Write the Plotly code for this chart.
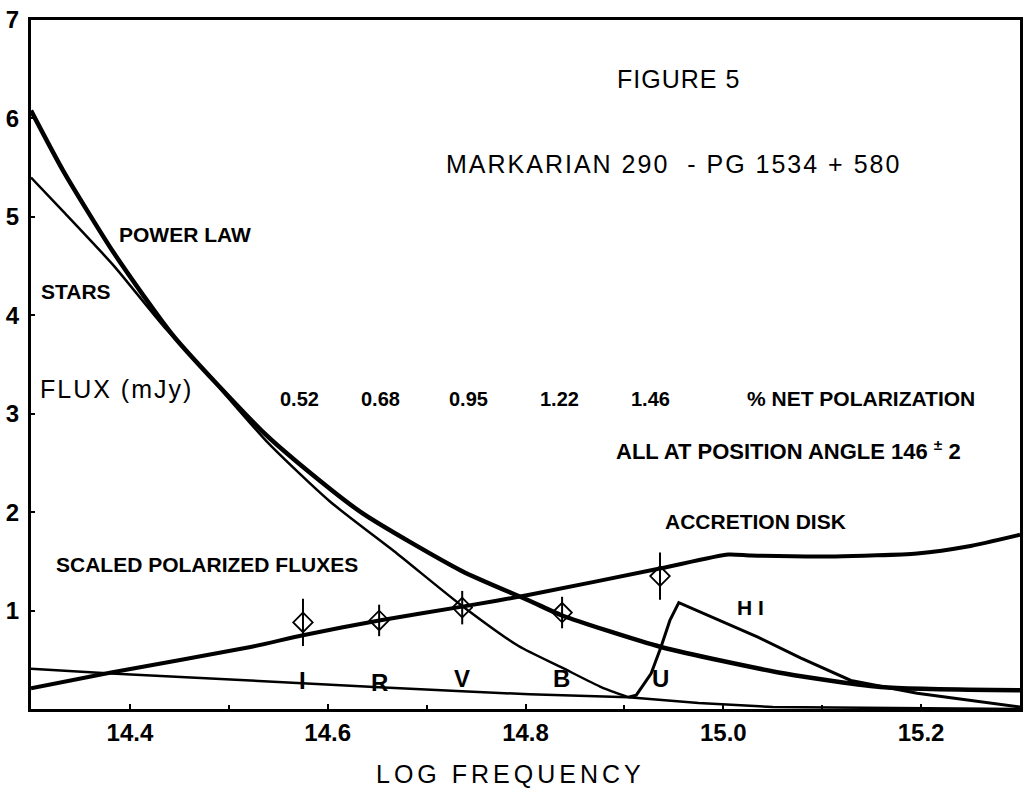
import plotly.graph_objects as go

# ---------------- data ----------------
power_x = [14.30, 14.333, 14.384, 14.444, 14.535, 14.569, 14.635, 14.736, 14.804, 14.837, 14.937, 15.062, 15.163, 15.30]
power_y = [6.08, 5.46, 4.63, 3.79, 2.81, 2.51, 1.99, 1.40, 1.10, 0.95, 0.63, 0.36, 0.22, 0.19]

stars_x = [14.30, 14.333, 14.384, 14.434, 14.47, 14.54, 14.602, 14.67, 14.733, 14.793, 14.837, 14.877, 14.904]
stars_y = [5.40, 5.05, 4.50, 3.89, 3.50, 2.70, 2.11, 1.58, 1.07, 0.64, 0.42, 0.22, 0.12]

disk_x = [14.30, 14.381, 14.522, 14.575, 14.652, 14.736, 14.804, 14.937, 15.005, 15.028, 15.113, 15.196, 15.247, 15.30]
disk_y = [0.21, 0.37, 0.63, 0.75, 0.90, 1.04, 1.16, 1.43, 1.57, 1.56, 1.55, 1.58, 1.65, 1.77]

base_x = [14.30, 14.381, 14.522, 14.575, 14.652, 14.736, 14.804, 14.904, 14.975, 15.05, 15.30]
base_y = [0.41, 0.36, 0.29, 0.26, 0.22, 0.18, 0.15, 0.12, 0.06, 0.02, 0.0]

hi_x = [14.904, 14.912, 14.927, 14.937, 14.946, 14.955, 15.035, 15.078, 15.129, 15.196, 15.30]
hi_y = [0.12, 0.14, 0.36, 0.63, 0.90, 1.08, 0.73, 0.52, 0.29, 0.16, 0.02]

pol_x = [14.575, 14.652, 14.736, 14.837, 14.936]
pol_y = [0.88, 0.90, 1.03, 0.98, 1.35]
pol_err = [0.24, 0.16, 0.17, 0.16, 0.24]

band_labels = ["I", "R", "V", "B", "U"]
band_x = [14.575, 14.652, 14.736, 14.836, 14.936]
band_y = [0.29, 0.27, 0.31, 0.31, 0.31]

net_pol = ["0.52", "0.68", "0.95", "1.22", "1.46"]
net_pol_x = [14.571, 14.653, 14.742, 14.834, 14.926]

x_ticks = [14.4, 14.6, 14.8, 15.0, 15.2]
y_ticks = [1, 2, 3, 4, 5, 6, 7]

FONT = "Liberation Sans, Arial, sans-serif"

fig = go.Figure()

def curve(x, y, w, shape="spline"):
    fig.add_trace(go.Scatter(x=x, y=y, mode="lines",
                             line=dict(color="black", width=w, shape=shape, smoothing=0.6),
                             showlegend=False, hoverinfo="skip"))

curve(power_x, power_y, 4.5)
curve(stars_x, stars_y, 2.5)
curve(disk_x, disk_y, 4.0)
curve(base_x, base_y, 2.5, "linear")
curve(hi_x, hi_y, 3.0, "linear")

fig.add_trace(go.Scatter(
    x=pol_x, y=pol_y, mode="markers",
    marker=dict(symbol="diamond-open", size=15, color="black", line=dict(width=1.8, color="black")),
    error_y=dict(type="data", array=pol_err, visible=True, width=0, thickness=2, color="black"),
    showlegend=False, hoverinfo="skip"))

ann = []

def txt(x, y, s, size, bold=True, anchor="center", spacing=None):
    if spacing:
        s = '<span style="letter-spacing:%spx">%s</span>' % (spacing, s)
    ann.append(dict(x=x, y=y, xref="x", yref="y", text=s, showarrow=False,
                    xanchor=anchor, yanchor="middle",
                    font=dict(family=FONT, size=size, color="black",
                              weight="bold" if bold else "normal")))

txt(14.955, 6.40, "FIGURE 5", 25, bold=False, spacing=1)
txt(14.950, 5.54, "MARKARIAN 290  - PG 1534 + 580", 25, bold=False, spacing=2)
txt(14.456, 4.82, "POWER LAW", 21)
txt(14.346, 4.24, "STARS", 21)
txt(14.307, 3.25, "FLUX (mJy)", 25, bold=False, anchor="left", spacing=2)
for s, xx in zip(net_pol, net_pol_x):
    txt(xx, 3.15, s, 20)
txt(15.139, 3.15, "% NET POLARIZATION", 21)
txt(15.066, 2.63, "ALL AT POSITION ANGLE 146 <sup>±</sup> 2", 22)
txt(15.033, 1.91, "ACCRETION DISK", 21)
txt(15.027, 1.03, "H I", 21)
txt(14.478, 1.47, "SCALED POLARIZED FLUXES", 21)
for s, xx, yy in zip(band_labels, band_x, band_y):
    txt(xx, yy, s, 24)

# axis title as annotation (paper coords)
ann.append(dict(x=0.485, y=-0.094, xref="paper", yref="paper", showarrow=False,
                text='<span style="letter-spacing:4px">LOG FREQUENCY</span>',
                xanchor="center", yanchor="middle",
                font=dict(family=FONT, size=25, color="black")))

fig.update_layout(
    width=1029, height=788,
    margin=dict(l=30, r=6, t=15, b=79),
    paper_bgcolor="white", plot_bgcolor="white",
    annotations=ann,
    xaxis=dict(range=[14.3, 15.3], tickvals=x_ticks, ticktext=["%.1f" % v for v in x_ticks],
               showline=True, mirror=True, linewidth=3, linecolor="black",
               ticks="inside", ticklen=5, tickwidth=2, tickcolor="black",
               minor=dict(dtick=0.1, tick0=14.3, ticks="inside", ticklen=4, tickcolor="black"),
               showgrid=False, zeroline=False,
               tickfont=dict(family=FONT, size=24, color="black", weight="bold")),
    yaxis=dict(range=[0, 7], tickvals=y_ticks,
               showline=True, mirror=True, linewidth=3, linecolor="black",
               ticks="inside", ticklen=4, tickwidth=2, tickcolor="black",
               showgrid=False, zeroline=False, ticklabelstandoff=4,
               tickfont=dict(family=FONT, size=24, color="black", weight="bold")),
)

fig.write_html("out.html")
